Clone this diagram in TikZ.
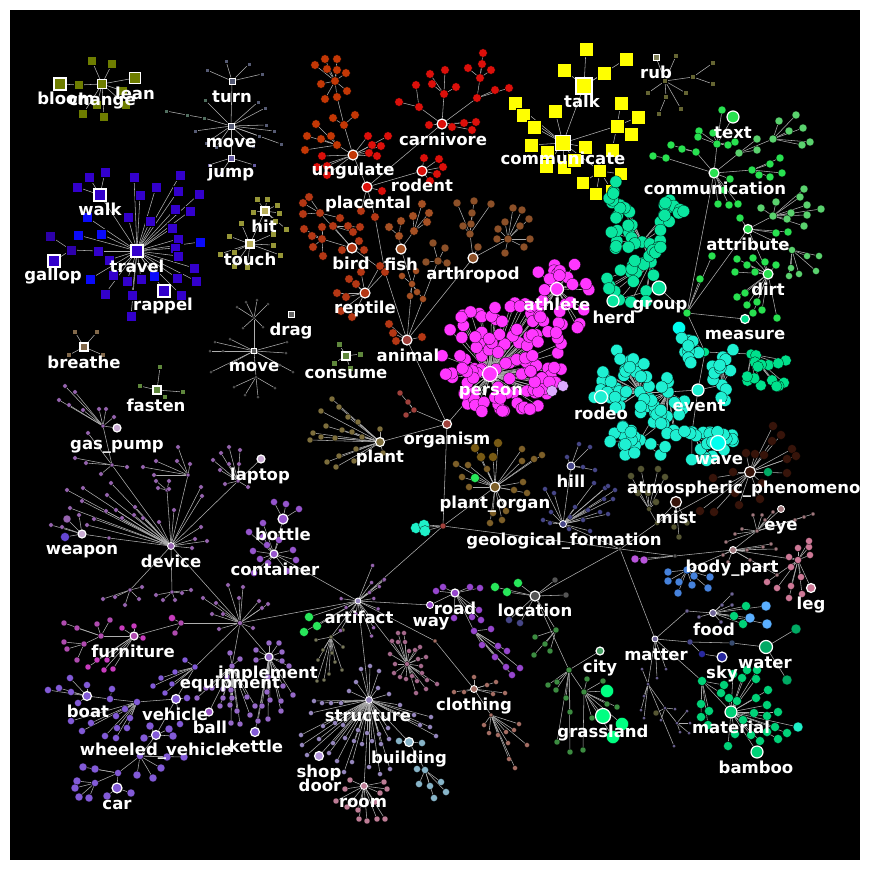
\documentclass[tikz,border=0pt]{standalone}
\usepackage{fontspec}
\setmainfont{DejaVu Sans}
\pgfdeclarelayer{bg}\pgfdeclarelayer{edges}\pgfdeclarelayer{labels}
\pgfsetlayers{bg,edges,main,labels}
\definecolor{edgec}{RGB}{175,175,175}
\definecolor{olv}{RGB}{110,125,0}
\definecolor{mvg}{RGB}{85,90,115}
\definecolor{mvgg}{RGB}{80,110,95}
\definecolor{jmp}{RGB}{100,90,160}
\definecolor{trv}{RGB}{51,0,204}
\definecolor{trb}{RGB}{10,10,250}
\definecolor{trd}{RGB}{45,0,170}
\definecolor{hitc}{RGB}{150,150,55}
\definecolor{hitl}{RGB}{185,175,90}
\definecolor{brth}{RGB}{130,105,75}
\definecolor{fst}{RGB}{95,135,60}
\definecolor{movc}{RGB}{100,100,100}
\definecolor{ung}{RGB}{195,55,5}
\definecolor{carn}{RGB}{220,15,10}
\definecolor{bird}{RGB}{180,55,20}
\definecolor{fish}{RGB}{165,80,35}
\definecolor{arth}{RGB}{140,80,40}
\definecolor{orgn}{RGB}{160,65,60}
\definecolor{plantc}{RGB}{125,110,60}
\definecolor{porg}{RGB}{125,95,40}
\definecolor{porgb}{RGB}{120,90,20}
\definecolor{per}{RGB}{255,55,255}
\definecolor{lav}{RGB}{220,170,255}
\definecolor{yel}{RGB}{255,255,0}
\definecolor{rubc}{RGB}{100,100,50}
\definecolor{rubl}{RGB}{130,130,90}
\definecolor{com}{RGB}{40,225,80}
\definecolor{coml}{RGB}{90,210,110}
\definecolor{grp}{RGB}{10,230,160}
\definecolor{evt}{RGB}{30,240,210}
\definecolor{wavec}{RGB}{0,255,240}
\definecolor{meas}{RGB}{0,225,140}
\definecolor{atm}{RGB}{55,20,10}
\definecolor{mistc}{RGB}{85,85,50}
\definecolor{hill}{RGB}{70,70,135}
\definecolor{locg}{RGB}{85,85,85}
\definecolor{matc}{RGB}{110,100,150}
\definecolor{eyec}{RGB}{160,120,125}
\definecolor{pinkc}{RGB}{205,120,150}
\definecolor{bluec}{RGB}{70,130,220}
\definecolor{lblue}{RGB}{90,175,255}
\definecolor{purp}{RGB}{185,85,220}
\definecolor{wac}{RGB}{55,75,110}
\definecolor{waterc}{RGB}{0,170,100}
\definecolor{skyc}{RGB}{40,40,160}
\definecolor{matg}{RGB}{0,210,120}
\definecolor{grs}{RGB}{0,255,130}
\definecolor{grsd}{RGB}{60,140,65}
\definecolor{cityc}{RGB}{70,160,100}
\definecolor{brg}{RGB}{40,230,90}
\definecolor{road}{RGB}{150,70,205}
\definecolor{cyn}{RGB}{30,240,200}
\definecolor{clth}{RGB}{165,110,100}
\definecolor{strc}{RGB}{150,135,190}
\definecolor{roomc}{RGB}{190,125,150}
\definecolor{bldg}{RGB}{135,180,200}
\definecolor{shopc}{RGB}{180,150,220}
\definecolor{pinkhub}{RGB}{165,105,140}
\definecolor{olg}{RGB}{120,120,90}
\definecolor{devc}{RGB}{150,100,175}
\definecolor{devl}{RGB}{200,170,210}
\definecolor{cont}{RGB}{150,85,205}
\definecolor{furn}{RGB}{175,75,175}
\definecolor{furnb}{RGB}{200,60,190}
\definecolor{veh}{RGB}{130,90,215}
\definecolor{impl}{RGB}{150,105,200}
\definecolor{ballc}{RGB}{155,85,200}
\definecolor{vio}{RGB}{100,70,210}
\tikzset{
 lnk/.style={draw=edgec,line width=0.55pt},
 cd/.style 2 args={circle,inner sep=0pt,minimum size=#2,fill=#1,draw=black,line width=0.25pt},
 sd/.style 2 args={rectangle,inner sep=0pt,minimum size=#2,fill=#1,draw=black,line width=0.25pt},
 hb/.style={draw=white,line width=1.2pt},
 hbs/.style={draw=white,line width=0.9pt},
 lbt/.style={text=white,font=\fontsize{16.5}{18}\selectfont\bfseries,inner sep=0pt,anchor=base},
}
\newcount\lfc
\def\alledges{}
\def\allhubs{}
\newcommand\mkedge[2]{\xdef\alledges{\unexpanded\expandafter{\alledges}\noexpand\draw[lnk] (#1) -- (#2);}}
\newcommand\mknode[4]{\node[#4] (#1) at (#2,#3) {};}
\newcommand\mkhub[5]{\mknode{#1}{#2}{#3}{#4}\mkedge{#5}{#1}}
\newcommand\lnode[4]{\xdef\allhubs{\unexpanded\expandafter{\allhubs}\unexpanded{\node[#4] (#1) at (#2,#3) {};}}}
\newcommand\lhub[5]{\lnode{#1}{#2}{#3}{#4}\mkedge{#5}{#1}}
\newcommand\mkleaf[4]{\global\advance\lfc by 1\relax\mknode{lf\the\lfc}{#3}{#4}{#2}\mkedge{#1}{lf\the\lfc}}
\newcommand\mkleaves[3]{\foreach \p/\q in {#3}{\mkleaf{#1}{#2}{\p}{\q}}}
\newcommand\blob[7]{\foreach \k in {1,...,#6}{\pgfmathsetmacro\ba{360*rnd}\pgfmathsetmacro\br{sqrt(rnd)}\pgfmathsetmacro\bx{#2+#4*\br*cos(\ba)}\pgfmathsetmacro\by{#3+#5*\br*sin(\ba)}\mkleaf{#1}{#7}{\bx}{\by}}}
\newcommand\fan[7]{\foreach \k in {1,...,#4}{\pgfmathsetmacro\ba{360*rnd}\pgfmathsetmacro\br{#5+(#6-#5)*rnd}\pgfmathsetmacro\bx{#2+\br*cos(\ba)}\pgfmathsetmacro\by{#3+\br*sin(\ba)}\mkleaf{#1}{#7}{\bx}{\by}}}
\begin{document}
\begin{tikzpicture}[x=1pt,y=-1pt]
\begin{pgfonlayer}{bg}
\fill[white] (0,0) rectangle (869,870);
\fill[black] (10,10) rectangle (860,860);
\end{pgfonlayer}
\useasboundingbox (0,0) rectangle (869,870);
\pgfmathsetseed{7}
% ---------- change
\lnode{change}{102}{84}{sd={olv}{9pt},hb}
\mkhub{c1}{79}{85}{sd={olv}{9pt}}{change}
\lhub{bloom}{60}{84}{sd={olv}{12pt},hb}{c1}
\lhub{lean}{135}{78}{sd={olv}{11pt},hb}{change}
\mkleaves{change}{sd={olv}{9pt}}{92/61,112/64,97/105,83/114,104/117,126/105,123/91}
% ---------- turn / move / jump
\lnode{movet}{231}{126}{sd={mvg}{6pt},hbs}
\lhub{turn}{232}{81}{sd={mvg}{6pt},hbs}{movet}
\mkleaves{turn}{sd={mvg}{4.5pt}}{226/61,249/64,207/70,262/74}
\mkleaves{movet}{sd={mvg}{4.5pt}}{258/102,265/108,266/125,274/131,259/136,281/144,195/131,206/143,216/147,253/146}
\mkleaves{movet}{sd={mvgg}{4.5pt}}{205/100}
\mkhub{mva}{204}{118}{sd={mvgg}{4.5pt}}{movet}
\mkhub{mvb}{187}{115}{sd={mvgg}{4.5pt}}{mva}
\mkleaves{mvb}{sd={mvgg}{4.5pt}}{166/111}
\lhub{jump}{231}{158}{sd={jmp}{6pt},hbs}{movet}
\mkleaves{jump}{sd={jmp}{4.5pt}}{209/165,254/165,221/173}
% ---------- travel
\lnode{travel}{137}{251}{sd={trv}{12pt},hb}
\lhub{walk}{100}{195}{sd={trv}{12pt},hb}{travel}
\mkleaves{walk}{sd={trv}{10pt}}{105/172,89/177,77/187}
\mkhub{tga}{98}{251}{sd={trv}{10pt}}{travel}
\mkhub{tgb}{71}{250}{sd={trd}{10pt}}{tga}
\lhub{gallop}{54}{261}{sd={trv}{12pt},hb}{tgb}
\mkleaves{tgb}{sd={trd}{10pt}}{50/236}
\lhub{rappel}{164}{291}{sd={trv}{12pt},hb}{travel}
\mkleaves{travel}{sd={trb}{10pt}}{87/217,101/234,78/235,200/242,90/279,154/276}
\mkleaves{travel}{sd={trv}{10pt}}{134/177,140/195,156/187,180/175,178/191,199/194,175/209,190/211,128/217,150/221,172/228,178/239,175/248,178/256,194/268,196/281,177/278,181/295,113/275,127/281,141/279,105/294,132/295,109/260,131/316}
% ---------- hit / touch
\lnode{touch}{250}{244}{sd={hitl}{8pt},hb}
\lhub{hit}{265}{211}{sd={hitl}{8pt},hb}{touch}
\mkleaves{hit}{sd={hitc}{6pt}}{257/199,267/199,277/205,253/212,279/213,275/221,286/229}
\mkleaves{touch}{sd={hitc}{6pt}}{241/223,229/236,220/254,234/252,234/266,247/267,273/234,273/245,280/255}
% ---------- breathe, fasten, consume, drag, move
\lnode{breathe}{84}{347}{sd={brth}{8pt},hb}
\mkleaves{breathe}{sd={brth}{5pt}}{75/332,97/332,69/355,103/355}
\lnode{fasten}{157}{390}{sd={fst}{8pt},hb}
\mkleaves{fasten}{sd={fst}{5pt}}{160/367,140/386,165/397,183/392}
\lnode{consume}{346}{356}{sd={fst}{8pt},hb}
\mkleaves{consume}{sd={fst}{6pt}}{339/344,360/354,334/363,350/368}
\lnode{movem}{254}{351}{sd={movc}{5pt},hbs}
\lnode{drag}{291}{314}{sd={movc}{6pt},hbs}
\mkhub{mma}{254}{318}{cd={movc}{3pt}}{movem}
\mkleaves{mma}{cd={movc}{3pt}}{246/302,257/300,268/304,237/307,243/328,263/327}
\mkleaves{movem}{cd={movc}{3pt}}{230/339,215/342,210/351,223/351,287/342,286/353,293/372,280/365,211/372,230/364}
\mkhub{mmb}{256}{377}{cd={movc}{3pt}}{movem}
\mkleaves{mmb}{cd={movc}{3pt}}{245/395,258/397,275/388,234/387}
% ---------- animals
\lnode{placental}{367}{187}{cd={carn}{10pt},hb}
\lhub{ungulate}{353}{155}{cd={ung}{10pt},hb}{placental}
\lhub{carnivore}{442}{124}{cd={carn}{10pt},hb}{placental}
\lhub{rodent}{422}{171}{cd={carn}{10pt},hb}{placental}
\mkhub{caa}{419}{107}{cd={carn}{8.5pt}}{carnivore}
\mkleaves{caa}{cd={carn}{8.5pt}}{416/85,399/102}
\mkhub{cab}{444}{94}{cd={carn}{8.5pt}}{carnivore}
\mkleaves{cab}{cd={carn}{8.5pt}}{430/74,445/70,432/84,456/87}
\mkhub{cac}{477}{98}{cd={carn}{8.5pt}}{carnivore}
\mkleaves{cac}{cd={carn}{8.5pt}}{495/90,509/88}
\mkhub{cad}{480}{78}{cd={carn}{8.5pt}}{cac}
\mkleaves{cad}{cd={carn}{8.5pt}}{468/68,482/64,491/70,483/53}
\mkleaves{carnivore}{cd={carn}{8.5pt}}{429/125,452/127,464/123,476/122,472/130}
\mkleaves{rodent}{cd={carn}{8.5pt}}{424/158,439/159,443/167,437/174,430/181}
\mkhub{una}{344}{125}{cd={ung}{8.5pt}}{ungulate}
\mkleaves{una}{cd={ung}{8.5pt}}{355/115,333/118}
\mkhub{unb}{337}{97}{cd={ung}{8.5pt}}{una}
\mkhub{unc}{335}{81}{cd={ung}{8.5pt}}{unb}
\mkleaves{unc}{cd={ung}{8.5pt}}{325/59,337/59,315/65,327/69,337/70,346/73,321/84,347/91,325/99}
\mkhub{und}{337}{145}{cd={ung}{8.5pt}}{ungulate}
\mkleaves{und}{cd={ung}{8.5pt}}{321/139,316/124,307/136,305/150,331/136}
\mkleaves{ungulate}{cd={carn}{8.5pt}}{368/136,388/136,372/145,381/146,377/156,369/153,322/156,327/166,327/175,317/167}
\mkleaves{placental}{cd={carn}{8.5pt}}{382/191}
\mkhub{paa}{375}{217}{cd={bird}{8.5pt}}{placental}
\mkleaves{placental}{cd={bird}{8.5pt}}{361/211}
\mkhub{pab}{385}{272}{cd={bird}{8.5pt}}{paa}
\lhub{bird}{352}{248}{cd={bird}{10pt},hb}{pab}
\mkhub{bia}{320}{213}{cd={bird}{8.5pt}}{bird}
\mkleaves{bia}{cd={bird}{8.5pt}}{309/197,303/203,303/214,340/218}
\mkhub{bib}{333}{226}{cd={bird}{8.5pt}}{bird}
\mkleaves{bib}{cd={bird}{8.5pt}}{348/226,360/227,353/232}
\mkhub{bic}{322}{239}{cd={bird}{8.5pt}}{bird}
\mkleaves{bic}{cd={bird}{8.5pt}}{304/229,312/236,313/247,323/256,322/227}
\mkleaves{bird}{cd={bird}{8.5pt}}{359/241,364/250,342/250}
\lhub{reptile}{365}{293}{cd={bird}{10pt},hb}{pab}
\mkleaves{reptile}{cd={bird}{8.5pt}}{356/284,349/279,361/272,380/266,337/293,346/297,341/311,352/317}
\lhub{animal}{407}{340}{cd={orgn}{10pt},hb}{pab}
\mkleaves{animal}{cd={bird}{8.5pt}}{389/324,393/333,396/341,422/337}
\mkhub{faa}{412}{284}{cd={fish}{7pt}}{animal}
\mkleaves{faa}{cd={fish}{7pt}}{410/296,417/292,402/276,416/271,423/299}
\lhub{fish}{401}{249}{cd={fish}{10pt},hb}{faa}
\mkhub{fia}{399}{236}{cd={fish}{8.5pt}}{fish}
\mkleaves{fia}{cd={fish}{8.5pt}}{401/221,389/227}
\mkhub{fib}{414}{231}{cd={fish}{8.5pt}}{fish}
\mkleaves{fib}{cd={fish}{8.5pt}}{413/216,422/204,429/213,427/222}
\lhub{arthropod}{473}{258}{cd={arth}{10pt},hb}{animal}
\mkhub{ara}{470}{234}{cd={arth}{8pt}}{arthropod}
\mkleaves{ara}{cd={arth}{8pt}}{463/226,471/224,472/213,457/203,474/201,491/204}
\mkhub{arb}{508}{239}{cd={arth}{8pt}}{arthropod}
\mkleaves{arb}{cd={arth}{8pt}}{498/229,497/239,505/222,513/208,522/210,529/219,520/226,530/239,524/247,505/253}
\mkleaves{arthropod}{cd={arth}{8pt}}{478/247}
\mkhub{arc}{438}{261}{cd={arth}{8pt}}{animal}
\mkleaves{arc}{cd={arth}{8pt}}{433/243,445/248,426/262,447/263}
% ---------- organism, plant, person
\lhub{organism}{447}{424}{cd={orgn}{9pt},hb}{animal}
\mkhub{oga}{414}{410}{cd={orgn}{6pt}}{organism}
\mkleaves{oga}{cd={orgn}{6pt}}{400/393,408/402,406/415}
\lhub{plant}{380}{442}{cd={plantc}{9pt},hb}{organism}
\mkleaves{plant}{cd={plantc}{6pt}}{332/399,339/407,321/411,348/417,358/422,326/426,342/430,352/432,313/433,321/437,335/438,362/437,310/440,356/449,339/456,327/462,354/461,336/467,380/429,383/453}
\lhub{person}{490}{374}{cd={per}{15pt},hb}{organism}
\lhub{athlete}{557}{289}{cd={per}{13pt},hb}{person}
\blob{person}{503}{358}{62}{58}{115}{cd={per}{12pt}}
\blob{athlete}{561}{298}{30}{42}{28}{cd={per}{12pt}}
\mkleaves{person}{cd={lav}{11pt}}{563/386,552/391}
% ---------- central links
\mkhub{nmid}{443}{526}{cd={orgn}{6pt}}{organism}
\mkleaves{nmid}{cd={cyn}{11pt}}{416/528,424/525,425/531}
\lhub{plantorgan}{495}{487}{cd={porg}{10pt},hb}{nmid}
\mkleaves{plantorgan}{cd={porgb}{9pt}}{475/448,481/457,493/457,498/443}
\mkleaves{plantorgan}{cd={porg}{7pt}}{487/469,468/465,462/477,456/464,469/487,522/449,522/461,534/459,542/455,523/482,514/490,527/493,493/513,502/520,490/523,506/511}
\mkleaves{plantorgan}{cd={brg}{9pt}}{475/478}
\lhub{artifact}{358}{601}{cd={strc}{6pt},hbs}{nmid}
\mkhub{Ha}{620}{549}{cd={locg}{4pt}}{nmid}
\lhub{geo}{563}{524}{cd={hill}{7pt},hbs}{Ha}
\lhub{hill}{571}{466}{cd={hill}{8pt},hbs}{geo}
\mkleaves{hill}{cd={hill}{5pt}}{590/447,583/467,595/470,567/457,579/444}
\mkleaves{geo}{cd={hill}{5pt}}{594/483,605/488,613/499,604/499,608/486,615/490,588/510,600/512,608/514,583/520,590/531,554/493,545/489,551/512,550/523,543/520,569/529,570/517,575/507}
\lhub{matter}{655}{639}{cd={matc}{6pt},hbs}{Ha}
\mkhub{bpa}{675}{556}{cd={locg}{4pt}}{Ha}
\mkleaves{bpa}{cd={purp}{8pt}}{635/559,644/560}
\lhub{bodypart}{733}{550}{cd={eyec}{7pt},hbs}{bpa}
\lhub{location}{535}{596}{cd={locg}{10pt},hb}{Ha}
\mkhub{Hm}{657}{523}{cd={mistc}{5pt}}{Ha}
\lhub{atm}{750}{472}{cd={atm}{11pt},hb}{Hm}
\lhub{mist}{676}{502}{cd={atm}{11pt},hb}{Hm}
\mkleaves{mist}{cd={mistc}{6pt}}{674/527,679/537,687/523}
\mkhub{moa}{649}{509}{cd={mistc}{5pt}}{Hm}
\mkleaves{moa}{cd={mistc}{7pt}}{631/476,641/469,658/469,665/477,638/493,648/493,656/502}
\mkleaves{atm}{cd={atm}{9pt}}{773/426,781/435,772/441,792/449,796/456,787/459,787/473,764/455,755/454,746/453,733/472,735/493,760/499,739/505,762/483,714/512,700/511,713/478}
\mkleaves{atm}{cd={waterc}{9pt}}{768/472}
% ---------- body part, eye, leg
\mkhub{eya}{757}{531}{cd={eyec}{4pt}}{bodypart}
\lhub{eye}{781}{509}{cd={eyec}{7pt},hbs}{eya}
\mkleaves{eya}{cd={eyec}{4pt}}{765/520,762/515,753/515,773/512,742/529,735/534,726/542,795/520,804/517,813/514}
\mkleaves{bodypart}{cd={eyec}{4pt}}{747/550,763/547,771/544,776/549,723/555,728/562,750/560,777/575}
\mkhub{pka}{798}{560}{cd={pinkc}{7pt}}{bodypart}
\mkleaves{pka}{cd={pinkc}{7pt}}{798/548,809/547,810/555,789/557,791/567,801/577,809/541,767/582,777/588,791/586,789/598,802/594}
\lhub{leg}{811}{588}{cd={pinkc}{9pt},hb}{pka}
\mkhub{bla}{687}{570}{cd={bluec}{8pt}}{bodypart}
\mkleaves{bla}{cd={bluec}{8pt}}{668/572,694/576,710/577,668/581,679/582,692/585,708/588,678/593}
% ---------- matter
\mkhub{foa}{687}{611}{cd={matc}{4pt}}{matter}
\lhub{food}{713}{613}{cd={matc}{7pt},hbs}{foa}
\mkleaves{food}{cd={matc}{4pt}}{722/605,732/605,732/594,699/617,721/622}
\mkleaves{food}{cd={matg}{9pt}}{746/606,734/616,743/624}
\mkleaves{food}{cd={lblue}{10pt}}{750/618,766/606,767/624}
\mkhub{waa}{690}{642}{cd={hill}{6pt}}{matter}
\mkhub{wab}{732}{643}{cd={wac}{6pt}}{waa}
\lhub{water}{766}{647}{cd={waterc}{13pt},hb}{wab}
\mkleaves{water}{cd={waterc}{10pt}}{796/629,787/680}
\mkhub{ska}{702}{654}{cd={skyc}{7pt}}{waa}
\lhub{sky}{722}{657}{cd={skyc}{10pt},hb}{ska}
\mkhub{maa}{702}{681}{cd={matg}{9pt}}{matter}
\mkleaves{maa}{cd={matg}{9pt}}{724/685,721/693,701/704,709/711,701/717,708/725}
\lhub{material}{731}{712}{cd={matg}{12pt},hb}{maa}
\mkleaves{material}{cd={matg}{9pt}}{729/698,737/701,747/670,757/670,742/678,756/679,733/674,768/690,756/698,767/705,754/713,767/716,778/712,775/727,787/733,778/739,767/732,760/741,751/735,735/734,728/746,743/720}
\mkleaves{material}{cd={cyn}{10pt}}{798/727}
\lhub{bamboo}{757}{752}{cd={matg}{12pt},hb}{material}
\mkhub{mpa}{648}{684}{cd={matc}{3.5pt}}{matter}
\mkleaves{mpa}{cd={matc}{3.5pt}}{642/669,644/696,641/710,644/718,674/746}
\mkhub{mpb}{665}{708}{cd={matc}{3.5pt}}{mpa}
\mkleaves{mpb}{cd={matc}{3.5pt}}{675/709,661/720}
\mkleaves{mpb}{cd={mistc}{6pt}}{656/713}
\mkhub{mpc}{677}{723}{cd={matc}{3.5pt}}{mpb}
\mkleaves{mpc}{cd={matc}{3.5pt}}{687/711,690/723,689/733,680/732}
\mkleaves{matter}{cd={matc}{3.5pt}}{666/669,657/678}
% ---------- location, city, grassland
\mkleaves{location}{cd={locg}{6pt}}{566/595,555/580}
\mkleaves{location}{cd={hill}{7pt}}{509/620,520/623}
\mkleaves{location}{cd={brg}{9pt}}{495/587,507/592,518/583}
\mkhub{loa}{569}{670}{cd={grsd}{6pt}}{location}
\lhub{city}{600}{651}{cd={cityc}{8pt},hb}{loa}
\mkhub{gra}{584}{692}{cd={grsd}{6pt}}{loa}
\lhub{grassland}{603}{716}{cd={grs}{15pt},hb}{gra}
\mkleaves{gra}{cd={grs}{13pt}}{607/691,622/724,613/737}
\mkleaves{gra}{cd={grsd}{6pt}}{587/679,603/681,607/704,617/707,592/718,583/750}
\mkleaves{loa}{cd={grsd}{6pt}}{566/698,570/712,557/742,570/752,557/682,548/685,556/690}
\mkhub{lob}{556}{630}{cd={grsd}{6pt}}{location}
\mkleaves{lob}{cd={grsd}{6pt}}{545/644,535/637,550/651,534/655}
% ---------- artifact region
\lhub{way}{430}{605}{cd={road}{7pt},hbs}{artifact}
\lhub{road}{455}{593}{cd={road}{8pt},hb}{way}
\mkleaves{road}{cd={road}{7pt}}{436/591,443/587,470/587,480/588,479/610,454/618,472/617,481/620}
\mkhub{rda}{474}{631}{cd={road}{7pt}}{road}
\mkleaves{rda}{cd={road}{7pt}}{491/629,482/645,498/646,507/651,495/657,506/667,520/668,512/675}
\mkleaves{artifact}{cd={brg}{9pt}}{309/617,317/626,304/632}
\mkhub{cla}{435}{641}{cd={clth}{4pt}}{artifact}
\lhub{clothing}{474}{689}{cd={clth}{7pt},hbs}{cla}
\mkleaves{clothing}{cd={clth}{5pt}}{454/692,464/692,474/677,487/685,496/682,493/694,505/693}
\mkhub{clb}{491}{715}{cd={clth}{4pt}}{clothing}
\mkleaves{clb}{cd={clth}{5pt}}{484/725,489/733,498/735,506/732,514/730,519/724,508/743,527/745,509/759,515/768}
\lhub{structure}{369}{700}{cd={strc}{7pt},hbs}{artifact}
\mkleaves{structure}{cd={strc}{5pt}}{361/669,370/666,379/671,356/682,349/691,378/688,389/694,341/703,331/703,322/703,314/701,311/713,400/705,414/715,431/717,430/727,436/736,420/725,388/728,379/734,367/733,358/730,343/725,335/723,323/726,345/738,354/741,333/743,301/735,319/739,302/745,307/755,329/753,337/761,352/762,344/772,362/744,372/741,381/744,389/739,380/774,390/769,369/767}
\lhub{room}{364}{786}{cd={roomc}{7pt},hbs}{structure}
\mkleaves{room}{cd={roomc}{6pt}}{350/780,345/789,336/801,347/807,358/810,359/819,367/821,377/819,385/819,387/789,384/782,380/793,375/802}
\lhub{building}{409}{742}{cd={bldg}{9pt},hb}{structure}
\mkleaves{building}{cd={bldg}{7pt}}{399/741,422/743}
\mkhub{bua}{425}{770}{cd={bldg}{7pt}}{building}
\mkleaves{bua}{cd={bldg}{7pt}}{417/769,419/784,430/786,441/782,446/792,434/798}
\lhub{shop}{319}{756}{cd={shopc}{9pt},hb}{structure}
\mkhub{pkh}{407}{664}{cd={pinkhub}{5pt}}{artifact}
\mkleaves{pkh}{cd={pinkhub}{5pt}}{392/641,398/642,405/642,398/633,404/633,409/651,415/650,420/647,426/657,418/659,421/666,422/673,412/676,406/679,400/677,394/673,395/664,390/654,417/681,427/680,437/684,416/693,426/689}
\mkhub{ogb}{331}{637}{cd={olg}{4pt}}{artifact}
\mkleaves{ogb}{cd={olg}{4pt}}{316/640,323/650,332/653,343/630,343/647,335/662,342/670,318/660,324/680,317/681,329/674}
\fan{artifact}{358}{601}{14}{12}{40}{cd={devc}{4pt}}
\lhub{container}{274}{554}{cd={cont}{8pt},hb}{artifact}
\lhub{bottle}{283}{519}{cd={cont}{10pt},hb}{container}
\mkleaves{bottle}{cd={cont}{7pt}}{274/502,286/504,299/509}
\mkleaves{container}{cd={cont}{7pt}}{263/523,249/532,263/537,253/551,260/559,267/545,279/540,293/550,296/560,287/571,268/563,254/573}
% ---------- device region
\mkhub{Hb}{240}{623}{cd={devc}{5pt}}{artifact}
\lhub{device}{171}{546}{cd={devc}{7pt},hbs}{Hb}
\mkhub{dva}{112}{465}{cd={devc}{4pt}}{device}
\mkhub{dvb}{103}{426}{cd={devc}{4pt}}{dva}
\lhub{gaspump}{117}{428}{cd={devl}{8pt},hb}{dvb}
\mkleaves{dvb}{cd={devc}{4.5pt}}{65/386,75/392,59/400,69/405,83/410,99/409,106/409,114/417}
\mkleaves{dva}{cd={devc}{4.5pt}}{75/458,86/463,101/474,127/467,88/433}
\mkhub{dvc}{109}{538}{cd={devc}{4pt}}{device}
\lhub{weapon}{82}{534}{cd={devl}{8pt},hb}{dvc}
\mkleaves{weapon}{cd={devc}{4.5pt}}{51/525,62/527,79/515}
\mkleaves{weapon}{cd={devc}{8pt}}{67/519}
\mkleaves{weapon}{cd={vio}{9pt}}{65/537}
\mkhub{dvd}{167}{490}{cd={devc}{4pt}}{device}
\mkleaves{dvd}{cd={devc}{4.5pt}}{156/481,158/488,169/481,169/489}
\mkhub{dve}{188}{475}{cd={devc}{4pt}}{device}
\mkleaves{dve}{cd={devc}{4.5pt}}{190/464,177/461,178/447,156/461,154/475,143/467}
\mkhub{dvf}{238}{481}{cd={devc}{4pt}}{device}
\lhub{laptop}{261}{459}{cd={devl}{8pt},hb}{dvf}
\mkleaves{dvf}{cd={devc}{4.5pt}}{213/460,221/453,229/447,240/450,229/464,239/464,248/487,225/484,220/470}
\mkleaves{device}{cd={devc}{4.5pt}}{201/487,202/496,174/510,195/539,207/541,192/548,201/527,159/522,143/518,135/507,134/515,122/518,116/510,106/511,94/519,87/525,70/508,82/501,107/495,111/483,83/488,67/490}
\mkhub{dvg}{130}{590}{cd={devc}{4pt}}{device}
\mkleaves{dvg}{cd={devc}{4.5pt}}{103/599,115/597,125/605,139/599,142/587}
\mkhub{dvh}{172}{592}{cd={devc}{4pt}}{device}
\mkleaves{dvh}{cd={devc}{4.5pt}}{156/595,163/600,175/600,182/593,191/590}
\mkleaves{Hb}{cd={devc}{4.5pt}}{203/598,216/603,228/585,239/598,243/587,212/614,223/614,219/629,253/628,259/601,268/604,262/608}
% ---------- furniture
\mkhub{fua}{181}{623}{cd={furn}{6pt}}{Hb}
\mkleaves{fua}{cd={furnb}{7pt}}{172/618}
\mkleaves{fua}{cd={furn}{6pt}}{175/633}
\lhub{furniture}{134}{636}{cd={furn}{8pt},hb}{fua}
\mkhub{fub}{101}{636}{cd={furn}{6pt}}{furniture}
\mkleaves{fub}{cd={furn}{6pt}}{77/628,64/623,97/624,110/620}
\mkhub{fuc}{84}{644}{cd={furn}{6pt}}{fub}
\mkleaves{fuc}{cd={furn}{6pt}}{64/642,67/649,77/660}
\mkleaves{furniture}{cd={furnb}{6pt}}{122/628,134/626,143/638,107/660,113/669,104/670,97/660,88/667}
% ---------- equipment, implement, vehicles
\lhub{equipment}{232}{666}{cd={impl}{6pt}}{Hb}
\mkleaves{equipment}{cd={impl}{6pt}}{223/689,231/690,232/698,223/698,212/688,206/688,197/698,220/706,230/705,237/711,231/723,240/724,247/697,255/706,250/715,227/677,240/659,230/653}
\lhub{ball}{209}{712}{cd={ballc}{8pt},hb}{equipment}
\lhub{implement}{269}{657}{cd={impl}{8pt},hb}{Hb}
\mkleaves{implement}{cd={impl}{6pt}}{256/650,269/643,279/643,282/652,282/661,289/666,283/686,293/695,268/677,267/692,262/706,270/700,258/721,268/719,281/711,281/701,256/660}
\lhub{kettle}{255}{732}{cd={veh}{9pt},hb}{implement}
\mkhub{vea}{195}{667}{cd={veh}{6pt}}{Hb}
\mkleaves{vea}{cd={veh}{6pt}}{175/672,161/678,153/686,185/660,172/684,165/693}
\lhub{vehicle}{176}{699}{cd={veh}{9pt},hb}{vea}
\mkleaves{vehicle}{cd={veh}{7pt}}{187/698,180/724}
\mkhub{veb}{137}{702}{cd={veh}{7pt}}{vehicle}
\mkhub{vec}{110}{699}{cd={veh}{7pt}}{veb}
\lhub{boat}{87}{696}{cd={veh}{9pt},hb}{vec}
\mkleaves{boat}{cd={veh}{7pt}}{70/678,59/688,48/690,71/692,87/685,78/703}
\mkleaves{vec}{cd={veh}{7pt}}{112/689}
\mkleaves{veb}{cd={veh}{7pt}}{125/709,116/716,130/718,117/728,127/728,105/736,116/738,91/723,82/731,71/721}
\lhub{wheeled}{156}{735}{cd={veh}{9pt},hb}{vehicle}
\mkleaves{wheeled}{cd={veh}{8pt}}{150/726,169/729,173/736,144/738}
\mkhub{wva}{140}{756}{cd={veh}{7pt}}{wheeled}
\mkleaves{wva}{cd={veh}{8pt}}{137/775,153/778,161/768,167/757,184/757}
\mkhub{wvb}{118}{773}{cd={veh}{7pt}}{wva}
\mkleaves{wvb}{cd={veh}{8pt}}{95/769,83/767}
\mkhub{wvc}{95}{783}{cd={veh}{7pt}}{wvb}
\mkleaves{wvc}{cd={veh}{8pt}}{77/781,75/788,79/797,89/798}
\lhub{car}{117}{788}{cd={veh}{10pt},hb}{wvb}
\mkleaves{car}{cd={veh}{8pt}}{107/796,131/793}
% ---------- communicate (yellow)
\lnode{communicate}{563}{143}{sd={yel}{15pt},hb}
\lhub{talk}{584}{86}{sd={yel}{16pt},hb}{communicate}
\mkleaves{talk}{sd={yel}{14pt}}{586/49,564/70,604/73,626/59}
\mkleaves{communicate}{sd={yel}{14pt}}{515/103,523/115,534/127,531/145,555/111,585/147,547/152,546/166,564/167,574/160}
\mkhub{cma}{617}{126}{sd={yel}{14pt}}{communicate}
\mkleaves{cma}{sd={yel}{14pt}}{621/103,638/117,631/134,612/150}
\mkhub{cmb}{600}{171}{sd={yel}{13pt}}{communicate}
\mkleaves{cmb}{sd={yel}{13pt}}{621/174,583/183,596/194,612/191}
% ---------- rub
\mknode{rubh}{665}{81}{sd={rubc}{5pt}}
\lhub{rub}{656}{57}{sd={rubl}{6pt},hbs}{rubh}
\mkleaves{rubh}{sd={rubc}{5pt}}{676/56,648/93,686/93,681/109}
\mkhub{rba}{666}{97}{sd={rubc}{5pt}}{rubh}
\mkleaves{rba}{sd={rubc}{5pt}}{659/114}
\mkhub{rbb}{693}{77}{sd={rubc}{5pt}}{rubh}
\mkleaves{rbb}{sd={rubc}{5pt}}{713/84,713/63}
% ---------- communication
\lnode{communication}{714}{173}{cd={com}{10pt},hb}
\mkhub{cna}{717}{144}{cd={com}{8pt}}{communication}
\lhub{text}{733}{117}{cd={com}{12pt},hb}{cna}
\mkleaves{cna}{cd={com}{8pt}}{722/110,728/145,735/142,699/131,698/137,713/133}
\mkhub{cnb}{739}{153}{cd={coml}{8pt}}{communication}
\mkleaves{cnb}{cd={coml}{8pt}}{757/139,757/150}
\mkhub{cnc}{773}{139}{cd={coml}{8pt}}{cnb}
\mkleaves{cnc}{cd={coml}{8pt}}{789/131,796/115,803/128,779/121,802/145,810/142}
\mkhub{cnd}{696}{152}{cd={com}{8pt}}{communication}
\mkleaves{cnd}{cd={com}{8pt}}{682/149,671/145}
\mkhub{cne}{666}{158}{cd={com}{8pt}}{communication}
\mkleaves{cne}{cd={com}{8pt}}{653/156}
\mkhub{cnf}{752}{170}{cd={com}{8pt}}{communication}
\mkleaves{cnf}{cd={com}{8pt}}{770/164,780/158,782/173,770/177,759/175}
\mkleaves{communication}{cd={com}{8pt}}{718/204,729/205,738/204,724/190,730/179}
\mkhub{Hc}{687}{313}{cd={com}{8pt}}{communication}
\mkleaves{Hc}{cd={com}{8pt}}{712/256,700/279}
\lhub{attribute}{748}{229}{cd={com}{9pt},hb}{Hc}
\mkleaves{attribute}{cd={com}{8pt}}{740/218,776/233,788/232}
\mkhub{ata}{773}{216}{cd={coml}{8pt}}{attribute}
\mkleaves{ata}{cd={coml}{8pt}}{776/202,761/208,791/213,800/197,804/189,807/205,807/215,804/226,821/209,787/219}
\mkhub{atb}{792}{250}{cd={coml}{7pt}}{attribute}
\mkleaves{atb}{cd={coml}{7pt}}{791/268,807/256,819/256,816/271,789/276,799/274}
\lhub{dirt}{768}{274}{cd={com}{10pt},hb}{attribute}
\mkleaves{dirt}{cd={com}{8pt}}{737/259,747/265,753/258,765/262,776/265,735/272,755/272,737/297,747/305,753/313,762/310,777/318,745/293,757/302}
% group: a small tree of teal discs
\lhub{group}{659}{288}{cd={grp}{14pt},hb}{Hc}
\lhub{herd}{613}{301}{cd={grp}{12pt},hb}{group}
\mkhub{gpa}{651}{262}{cd={grp}{12pt}}{group}
\mkhub{gpb}{642}{242}{cd={grp}{12pt}}{gpa}
\mkhub{gpc}{670}{207}{cd={grp}{12pt}}{gpb}
\mkhub{gpd}{620}{205}{cd={grp}{12pt}}{gpb}
\blob{gpa}{636}{282}{30}{22}{18}{cd={grp}{12pt}}
\blob{gpb}{638}{234}{28}{28}{22}{cd={grp}{12pt}}
\blob{gpc}{672}{200}{18}{25}{10}{cd={grp}{12pt}}
\blob{gpd}{618}{200}{15}{25}{10}{cd={grp}{12pt}}
\lhub{measure}{745}{319}{cd={meas}{9pt},hb}{Hc}
\mkhub{eva}{705}{352}{cd={meas}{9pt}}{Hc}
\mkleaves{eva}{cd={wavec}{13pt}}{679/328}
\mkhub{msa}{751}{354}{cd={meas}{10pt}}{eva}
\blob{msa}{767}{371}{22}{22}{15}{cd={meas}{11pt}}
% event: a small tree of cyan discs
\lhub{event}{698}{390}{cd={evt}{12pt},hb}{eva}
\mkhub{eaa}{668}{392}{cd={evt}{12pt}}{event}
\mkhub{eab}{640}{392}{cd={evt}{12pt}}{eaa}
\mkhub{eac}{692}{432}{cd={evt}{12pt}}{event}
\mkhub{ead}{640}{440}{cd={evt}{12pt}}{eaa}
\mkhub{eae}{722}{385}{cd={evt}{12pt}}{event}
\mkhub{eaf}{685}{352}{cd={evt}{12pt}}{eva}
\blob{eab}{622}{385}{32}{38}{32}{cd={evt}{12pt}}
\blob{eaa}{665}{408}{25}{35}{22}{cd={evt}{12pt}}
\blob{eac}{705}{440}{30}{22}{20}{cd={evt}{12pt}}
\blob{ead}{645}{440}{35}{20}{18}{cd={evt}{12pt}}
\blob{eae}{725}{375}{16}{30}{12}{cd={evt}{12pt}}
\blob{eaf}{690}{350}{16}{14}{8}{cd={evt}{12pt}}
\lhub{wave}{718}{443}{cd={wavec}{15pt},hb}{eac}
\lhub{rodeo}{601}{397}{cd={evt}{13pt},hb}{eab}
% ---------- labelled nodes on top, then all connectors underneath
\allhubs
\begin{pgfonlayer}{edges}
\alledges
\end{pgfonlayer}
% ---------- labels
\begin{pgfonlayer}{labels}
\begin{scope}
\clip (10,10) rectangle (860,860);
\node[lbt] (tbloom) at (66,104) {bloom};
\node[lbt] (tchange) at (102,105) {change};
\node[lbt] (tlean) at (135,99) {lean};
\node[lbt] (tturn) at (232,102) {turn};
\node[lbt] (tmovet) at (231,147) {move};
\node[lbt] (tjump) at (231,177) {jump};
\node[lbt] (twalk) at (100,215) {walk};
\node[lbt] (ttravel) at (137,272) {travel};
\node[lbt] (tgallop) at (53,280) {gallop};
\node[lbt] (trappel) at (163,310) {rappel};
\node[lbt] (thit) at (264,232) {hit};
\node[lbt] (ttouch) at (250,265) {touch};
\node[lbt] (tungulate) at (353,175) {ungulate};
\node[lbt] (tplacental) at (368,208) {placental};
\node[lbt] (trodent) at (422,191) {rodent};
\node[lbt] (tcarnivore) at (443,145) {carnivore};
\node[lbt] (tbird) at (351,269) {bird};
\node[lbt] (tfish) at (401,270) {fish};
\node[lbt] (tarthropod) at (473,279) {arthropod};
\node[lbt] (treptile) at (365,313) {reptile};
\node[lbt] (tanimal) at (408,361) {animal};
\node[lbt] (ttalk) at (582,107) {talk};
\node[lbt] (tcommunicate) at (563,164) {communicate};
\node[lbt] (trub) at (656,78) {rub};
\node[lbt] (ttext) at (733,138) {text};
\node[lbt] (tcommunication) at (715,194) {communication};
\node[lbt] (tattribute) at (748,250) {attribute};
\node[lbt] (tdirt) at (768,295) {dirt};
\node[lbt] (tathlete) at (557,310) {athlete};
\node[lbt] (therd) at (614,323) {herd};
\node[lbt] (tgroup) at (660,309) {group};
\node[lbt] (tmeasure) at (745,339) {measure};
\node[lbt] (tperson) at (491,395) {person};
\node[lbt] (trodeo) at (601,419) {rodeo};
\node[lbt] (tevent) at (699,411) {event};
\node[lbt] (twave) at (719,464) {wave};
\node[lbt,anchor=base west] (tatm) at (627,493) {atmospheric\_phenomenon};
\node[lbt] (tmist) at (676,523) {mist};
\node[lbt] (teye) at (781,530) {eye};
\node[lbt] (thill) at (571,487) {hill};
\node[lbt] (tplantorgan) at (495,508) {plant\_organ};
\node[lbt] (tgeo) at (564,545) {geological\_formation};
\node[lbt] (tbodypart) at (732,572) {body\_part};
\node[lbt] (tleg) at (811,609) {leg};
\node[lbt] (tlocation) at (535,616) {location};
\node[lbt] (troad) at (455,614) {road};
\node[lbt] (tway) at (431,626) {way};
\node[lbt] (tartifact) at (359,623) {artifact};
\node[lbt] (tfood) at (714,635) {food};
\node[lbt] (tmatter) at (656,660) {matter};
\node[lbt] (tsky) at (722,678) {sky};
\node[lbt] (twater) at (765,668) {water};
\node[lbt] (tcity) at (600,672) {city};
\node[lbt] (tgrassland) at (603,737) {grassland};
\node[lbt] (tmaterial) at (731,733) {material};
\node[lbt] (tbamboo) at (756,773) {bamboo};
\node[lbt] (torganism) at (447,444) {organism};
\node[lbt] (tplant) at (380,462) {plant};
\node[lbt] (tconsume) at (346,378) {consume};
\node[lbt] (tdrag) at (291,335) {drag};
\node[lbt] (tmovem) at (254,371) {move};
\node[lbt] (tbreathe) at (84,368) {breathe};
\node[lbt] (tfasten) at (156,411) {fasten};
\node[lbt] (tgaspump) at (117,449) {gas\_pump};
\node[lbt] (tlaptop) at (260,480) {laptop};
\node[lbt] (tweapon) at (82,554) {weapon};
\node[lbt] (tdevice) at (171,567) {device};
\node[lbt] (tbottle) at (283,540) {bottle};
\node[lbt] (tcontainer) at (275,575) {container};
\node[lbt] (tfurniture) at (133,657) {furniture};
\node[lbt] (timplement) at (268,678) {implement};
\node[lbt] (tequipment) at (230,688) {equipment};
\node[lbt] (tboat) at (88,717) {boat};
\node[lbt] (tvehicle) at (175,720) {vehicle};
\node[lbt] (tball) at (210,733) {ball};
\node[lbt] (tkettle) at (256,752) {kettle};
\node[lbt] (twheeled) at (156,755) {wheeled\_vehicle};
\node[lbt] (tcar) at (117,809) {car};
\node[lbt] (tstructure) at (368,721) {structure};
\node[lbt] (tshop) at (319,777) {shop};
\node[lbt] (tdoor) at (320,791) {door};
\node[lbt] (tbuilding) at (409,763) {building};
\node[lbt] (troom) at (363,807) {room};
\node[lbt] (tclothing) at (474,710) {clothing};
\end{scope}
\end{pgfonlayer}
\end{tikzpicture}
\end{document}
